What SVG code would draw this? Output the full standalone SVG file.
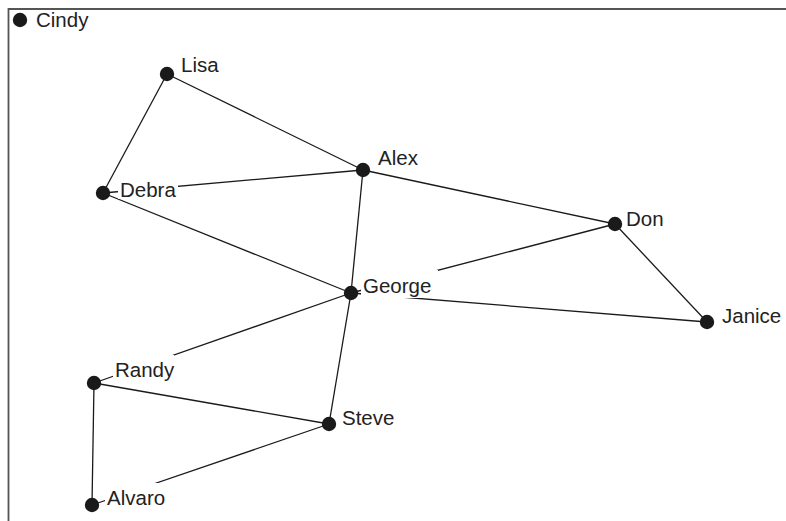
<svg xmlns="http://www.w3.org/2000/svg" width="786" height="521" viewBox="0 0 786 521">
<style>
.e{stroke:#1a1a1a;stroke-width:1.3;fill:none}
.d{fill:#1a1a1a}
.bg{fill:#fff}
.t{font-family:"Liberation Sans",Arial,sans-serif;font-size:20.5px;fill:#222}
.frame{stroke:#555;stroke-width:1.8;fill:none}
</style>
<rect width="786" height="521" fill="#fff"/>
<path class="frame" d="M8.5,521 V9 H786"/>
<g id="edges">
<line class="e" x1="167" y1="74" x2="363" y2="170"/>
<line class="e" x1="167" y1="74" x2="103" y2="193"/>
<line class="e" x1="103" y1="193" x2="363" y2="170"/>
<line class="e" x1="103" y1="193" x2="351" y2="293"/>
<line class="e" x1="363" y1="170" x2="351" y2="293"/>
<line class="e" x1="363" y1="170" x2="615" y2="224"/>
<line class="e" x1="615" y1="224" x2="351" y2="293"/>
<line class="e" x1="615" y1="224" x2="707" y2="322"/>
<line class="e" x1="351" y1="293" x2="707" y2="322"/>
<line class="e" x1="351" y1="293" x2="94" y2="383"/>
<line class="e" x1="351" y1="293" x2="329" y2="424"/>
<line class="e" x1="94" y1="383" x2="329" y2="424"/>
<line class="e" x1="94" y1="383" x2="92" y2="505"/>
<line class="e" x1="329" y1="424" x2="92" y2="505"/>
</g>
<g id="Cindy"><circle class="d" cx="20" cy="20" r="7.2"/><text class="t" x="36" y="27">Cindy</text></g>
<g id="Lisa"><circle class="d" cx="167" cy="74" r="7.2"/><rect class="bg" x="179" y="49" width="42" height="26.5"/><text class="t" x="181" y="72">Lisa</text></g>
<g id="Alex"><circle class="d" cx="363" cy="170" r="7.2"/><rect class="bg" x="376" y="142" width="44" height="26.5"/><text class="t" x="378" y="165">Alex</text></g>
<g id="Debra"><circle class="d" cx="103" cy="193" r="7.2"/><rect class="bg" x="118" y="175" width="60" height="24"/><text class="t" x="120" y="197">Debra</text></g>
<g id="Don"><circle class="d" cx="615" cy="224" r="7.2"/><rect class="bg" x="624" y="203" width="42" height="26.5"/><text class="t" x="626" y="226">Don</text></g>
<g id="George"><circle class="d" cx="351" cy="293" r="7.2"/><rect class="bg" x="361" y="270" width="77" height="28"/><text class="t" x="363" y="293">George</text></g>
<g id="Janice"><circle class="d" cx="707" cy="322" r="7.2"/><rect class="bg" x="720" y="300" width="64" height="26.5"/><text class="t" x="722" y="323">Janice</text></g>
<g id="Randy"><circle class="d" cx="94" cy="383" r="7.2"/><rect class="bg" x="113" y="355" width="61" height="26"/><text class="t" x="115" y="377">Randy</text></g>
<g id="Steve"><circle class="d" cx="329" cy="424" r="7.2"/><rect class="bg" x="340" y="402" width="56" height="26.5"/><text class="t" x="342" y="425">Steve</text></g>
<g id="Alvaro"><circle class="d" cx="92" cy="505" r="7.2"/><rect class="bg" x="105" y="483" width="62" height="26.5"/><text class="t" x="107" y="505">Alvaro</text></g>
</svg>
